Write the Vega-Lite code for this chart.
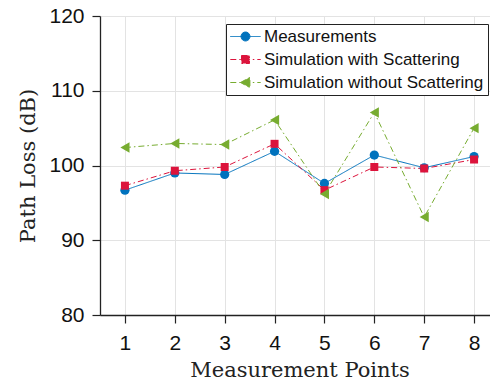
{
  "$schema": "https://vega.github.io/schema/vega-lite/v6.json",
  "width": 399,
  "height": 299,
  "autosize": "none",
  "padding": {"left": 100, "top": 16, "right": 0, "bottom": 69},
  "background": "white",
  "config": {
    "view": {"stroke": null},
    "axis": {
      "domainColor": "#222222",
      "domainWidth": 1.3,
      "tickColor": "#222222",
      "tickSize": 8,
      "tickWidth": 1.2,
      "gridColor": "#e3e3e3",
      "gridWidth": 1,
      "labelFont": "Liberation Sans",
      "labelFontSize": 21,
      "labelColor": "#111111",
      "titleFont": "DejaVu Serif",
      "titleFontWeight": "normal",
      "titleFontSize": 21,
      "titleColor": "#222222"
    },
    "legend": {
      "orient": "none",
      "legendX": 126,
      "legendY": 8,
      "padding": 4,
      "strokeColor": "#222222",
      "fillColor": "white",
      "labelFont": "Liberation Sans",
      "labelFontSize": 17,
      "labelColor": "#111111",
      "symbolSize": 256,
      "symbolStrokeWidth": 1,
      "symbolOpacity": 1,
      "symbolOffset": 7,
      "labelOffset": 10,
      "rowPadding": 5,
      "labelLimit": 400
    }
  },
  "data": {
    "values": [
      {"point": 1, "series": "Measurements", "value": 96.7},
      {"point": 2, "series": "Measurements", "value": 99.0},
      {"point": 3, "series": "Measurements", "value": 98.8},
      {"point": 4, "series": "Measurements", "value": 101.9},
      {"point": 5, "series": "Measurements", "value": 97.6},
      {"point": 6, "series": "Measurements", "value": 101.4},
      {"point": 7, "series": "Measurements", "value": 99.7},
      {"point": 8, "series": "Measurements", "value": 101.2},
      {"point": 1, "series": "Simulation with Scattering", "value": 97.3},
      {"point": 2, "series": "Simulation with Scattering", "value": 99.3},
      {"point": 3, "series": "Simulation with Scattering", "value": 99.8},
      {"point": 4, "series": "Simulation with Scattering", "value": 102.9},
      {"point": 5, "series": "Simulation with Scattering", "value": 96.7},
      {"point": 6, "series": "Simulation with Scattering", "value": 99.8},
      {"point": 7, "series": "Simulation with Scattering", "value": 99.6},
      {"point": 8, "series": "Simulation with Scattering", "value": 100.8},
      {"point": 1, "series": "Simulation without Scattering", "value": 102.4},
      {"point": 2, "series": "Simulation without Scattering", "value": 102.95},
      {"point": 3, "series": "Simulation without Scattering", "value": 102.8},
      {"point": 4, "series": "Simulation without Scattering", "value": 106.1},
      {"point": 5, "series": "Simulation without Scattering", "value": 96.2},
      {"point": 6, "series": "Simulation without Scattering", "value": 107.1},
      {"point": 7, "series": "Simulation without Scattering", "value": 93.1},
      {"point": 8, "series": "Simulation without Scattering", "value": 105.0}
    ]
  },
  "encoding": {
    "x": {
      "field": "point",
      "type": "quantitative",
      "scale": {"domain": [0.5, 8.5], "nice": false, "zero": false},
      "axis": {"values": [1, 2, 3, 4, 5, 6, 7, 8], "title": "Measurement Points", "labelPadding": 9, "titlePadding": 6}
    },
    "y": {
      "field": "value",
      "type": "quantitative",
      "scale": {"domain": [80, 120], "nice": false, "zero": false},
      "axis": {"values": [80, 90, 100, 110, 120], "title": "Path Loss (dB)", "labelPadding": 8, "titlePadding": 10}
    }
  },
  "layer": [
    {
      "mark": {"type": "line", "strokeWidth": 1},
      "encoding": {
        "stroke": {
          "field": "series",
          "type": "nominal",
          "title": null,
          "scale": {
            "domain": ["Measurements", "Simulation with Scattering", "Simulation without Scattering"],
            "range": ["#0072BD", "#DC143C", "#77AC30"]
          }
        },
        "strokeDash": {
          "field": "series",
          "type": "nominal",
          "title": null,
          "scale": {
            "domain": ["Measurements", "Simulation with Scattering", "Simulation without Scattering"],
            "range": [[1, 0], [6, 3, 1.5, 3], [6, 3, 1.5, 3]]
          }
        }
      }
    },
    {
      "transform": [{"filter": "datum.series == 'Measurements'"}],
      "mark": {"type": "point", "shape": "circle", "filled": true, "opacity": 1, "size": 85, "color": "#0072BD"}
    },
    {
      "transform": [{"filter": "datum.series == 'Simulation with Scattering'"}],
      "mark": {"type": "point", "shape": "square", "filled": true, "opacity": 1, "size": 64, "color": "#DC143C"}
    },
    {
      "transform": [{"filter": "datum.series == 'Simulation without Scattering'"}],
      "mark": {"type": "point", "shape": "triangle-left", "filled": true, "opacity": 1, "size": 110, "color": "#77AC30"}
    },
    {
      "mark": {"type": "point", "filled": false, "opacity": 0, "strokeWidth": 1},
      "encoding": {
        "stroke": {
          "field": "series",
          "type": "nominal",
          "title": null
        },
        "fill": {
          "field": "series",
          "type": "nominal",
          "title": null,
          "scale": {
            "domain": ["Measurements", "Simulation with Scattering", "Simulation without Scattering"],
            "range": ["#0072BD", "#DC143C", "#77AC30"]
          }
        },
        "shape": {
          "field": "series",
          "type": "nominal",
          "title": null,
          "scale": {
            "domain": ["Measurements", "Simulation with Scattering", "Simulation without Scattering"],
            "range": [
              "M-1.9,0H1.9M0.56,0A0.56,0.56,0,1,1,-0.56,0A0.56,0.56,0,1,1,0.56,0Z",
              "M-1.9,0H1.9M-0.5,-0.5H0.5V0.5H-0.5Z",
              "M-1.9,0H1.9M-0.62,0L0.55,-0.65V0.65Z"
            ]
          }
        },
        "strokeDash": {
          "field": "series",
          "type": "nominal",
          "title": null
        }
      }
    }
  ]
}
